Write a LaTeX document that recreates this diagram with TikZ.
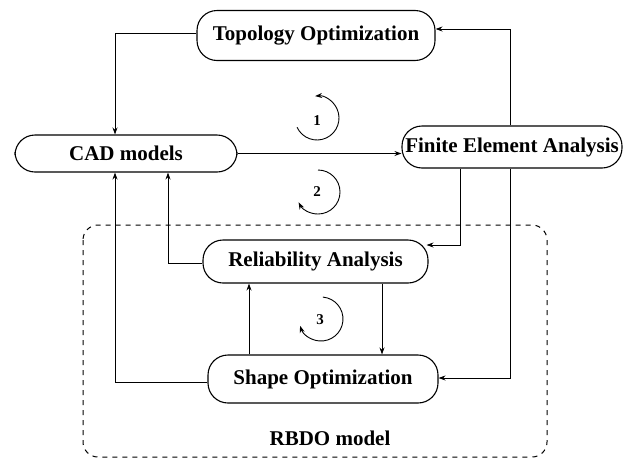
\documentclass[tikz,border=0pt]{standalone}
\usepackage{fontspec}
\setmainfont{Liberation Serif}
\usetikzlibrary{arrows.meta}
\begin{document}
\begin{tikzpicture}[x=1pt,y=-1pt,
  box/.style={draw,line width=1.1pt,rounded corners=20pt,inner sep=0pt,
    font=\fontsize{21}{24}\selectfont\bfseries},
  conn/.style={line width=0.9pt,-{Stealth[length=7pt,width=5pt]}},
  num/.style={font=\fontsize{15}{17}\selectfont\bfseries,inner sep=0pt},
  loop/.style={line width=0.9pt,-{Stealth[length=7pt,width=5pt]}}]
\useasboundingbox (0,0) rectangle (634,461);
% RBDO region
\draw[line width=1pt,dash pattern=on 5pt off 5pt,rounded corners=15pt] (83,225) rectangle (547,457);
\node[font=\fontsize{21}{24}\selectfont\bfseries] (rbdo) at (330,438) {RBDO model};
% nodes
\node[box,minimum width=238pt,minimum height=50pt] (topo) at (316,35.5) {Topology Optimization};
\node[box,minimum width=222pt,minimum height=37pt] (cad) at (126,153.5) {CAD models};
\node[box,minimum width=220pt,minimum height=42pt] (fea) at (512,147) {Finite Element Analysis};
\node[box,minimum width=225pt,minimum height=43pt] (rel) at (315.5,261.5) {Reliability Analysis};
\node[box,minimum width=230pt,minimum height=48pt] (shape) at (323,379) {Shape Optimization};
% connectors
\draw[conn] ([yshift=2.5pt]topo.west) -| ([xshift=-11pt]cad.north);
\draw[conn] ([xshift=-2pt]fea.north) |- ([yshift=6.5pt]topo.east);
\draw[conn] (cad.east) -- (cad.east -| fea.west);
\draw[conn] ([xshift=-52pt]fea.south) |- ([yshift=16.5pt,xshift=-2pt]rel.east);
\draw[conn] ([xshift=-2pt]fea.south) |- ([yshift=1pt]shape.east);
\draw[conn] ([yshift=-1.5pt]rel.west) -| ([xshift=42pt]cad.south);
\draw[conn] ([yshift=-3pt]shape.west) -| ([xshift=-11pt]cad.south);
\draw[conn] ([xshift=-74pt]shape.north) -- ([xshift=-74pt]shape.north |- rel.south);
\draw[conn] ([xshift=66.5pt]rel.south) -- ([xshift=66.5pt]rel.south |- shape.north);
% loop labels and arrows
\node[num] (l1) at (317,121) {1};
\node[num] (l2) at (317,192) {2};
\node[num] (l3) at (320,320) {3};
\draw[loop] (317,118) ++(-205:22) arc[start angle=-205,end angle=-455,radius=22];
\draw[loop] (318,192) ++(-90:22) arc[start angle=-90,end angle=152,radius=22];
\draw[loop] (321,319) ++(-85:22) arc[start angle=-85,end angle=162,radius=22];
\end{tikzpicture}
\end{document}
